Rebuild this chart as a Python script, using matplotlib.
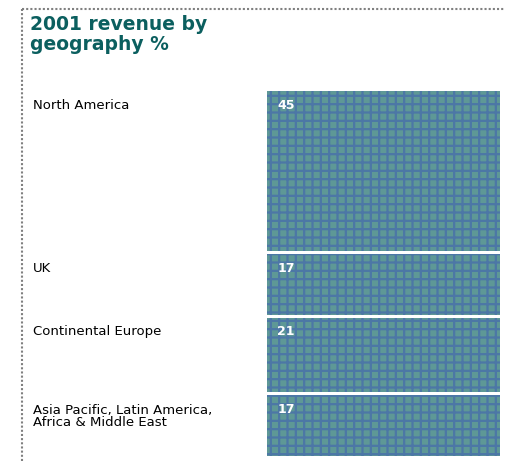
import matplotlib.pyplot as plt
import matplotlib.transforms as mtransforms
from matplotlib.lines import Line2D

# 2001 revenue split by region, in percent
regions = ['North America', 'UK', 'Continental Europe',
           'Asia Pacific, Latin America,\nAfrica & Middle East']
shares = [45, 17, 21, 17]

gap = 0.85  # white space between the stacked blocks, in data units

plt.rcParams['font.family'] = ['DejaVu Sans']
plt.rcParams['hatch.linewidth'] = 1.6

W, H = 505, 461
fig = plt.figure(figsize=(W / 100, H / 100), dpi=100)

# the bar occupies a fixed block on the right
left, right, top, bottom = 267, 500, 91, 456
ax = fig.add_axes([left / W, 1 - bottom / H, (right - left) / W, (bottom - top) / H])

starts = []
pos = 0
for v in shares:
    starts.append(pos)
    pos += v + gap
ax.bar([0] * len(shares), shares, bottom=starts, width=1.0, align='edge',
       color='#5e9896', edgecolor='#4c77a6', linewidth=0, hatch='++')
ax.set_xlim(0, 1)
ax.set_ylim(pos - gap, 0)
ax.axis('off')

# value labels inside each block, region names on the left
trans = mtransforms.blended_transform_factory(fig.transFigure, ax.transData)
inner = mtransforms.blended_transform_factory(ax.transAxes, ax.transData)
for name, v, s in zip(regions, shares, starts):
    ax.text(0.045, s + 4.0, str(v), color='white', fontsize=9, fontweight='bold',
            va='center', ha='left', transform=inner)
    if '\n' in name:
        ax.text(33 / W, s + 2.3, name, color='black', fontsize=9.5, va='top',
                ha='left', transform=trans, linespacing=0.95)
    else:
        ax.text(33 / W, s + 4.0, name, color='black', fontsize=9.5, va='center',
                ha='left', transform=trans)

fig.text(30 / W, 1 - 15 / H, '2001 revenue by\ngeography %', color='#0b5f5f',
         fontsize=13.5, fontweight='bold', va='top', ha='left', linespacing=1.1)

# dotted frame along the top and left edges
fig.add_artist(Line2D([22 / W, 22 / W], [0, 1 - 9 / H], transform=fig.transFigure,
                      color='#808080', lw=1.5, ls=(0, (1, 1))))
fig.add_artist(Line2D([22 / W, 1], [1 - 9 / H, 1 - 9 / H], transform=fig.transFigure,
                      color='#808080', lw=1.5, ls=(0, (1, 1))))

fig.savefig('out.png', dpi=100)
